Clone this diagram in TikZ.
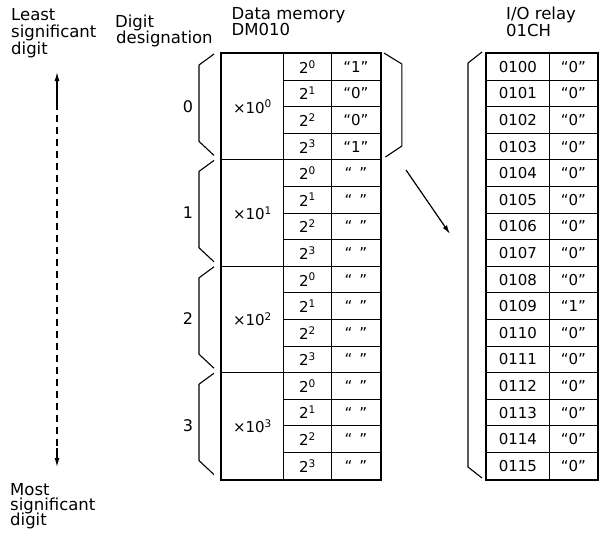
\documentclass[tikz,border=0pt]{standalone}
\usepackage{fontspec}
\setmainfont{DejaVu Sans}
\usetikzlibrary{arrows.meta,calc}
\begin{document}
\begin{tikzpicture}[x=1pt,y=-1pt,
  cell/.style={draw, line width=0.9pt, minimum width=#1, minimum height=26.6pt,
    inner sep=0pt, anchor=north west, font=\fontsize{15}{17}\selectfont},
  lbl/.style={anchor=base west, inner sep=0pt, font=\fontsize{16.5}{18}\selectfont},
  outer/.style={line width=2pt},
  brace/.style={line width=1.1pt, line join=round},
  tip/.style={-{Latex[length=9pt,width=5pt]}, line width=1.2pt}]
\useasboundingbox (0,0) rectangle (603,541);

% headings
\node[lbl] (l1) at (11,20.5) {Least};
\node[lbl] (l2) at (11,37.5) {significant};
\node[lbl] (l3) at (11,54.5) {digit};
\node[lbl] (m1) at (10,495) {Most};
\node[lbl] (m2) at (10,510) {significant};
\node[lbl] (m3) at (10,525) {digit};
\node[lbl] (dg1) at (115,27.3) {Digit};
\node[lbl] (dg2) at (116,43.5) {designation};
\node[lbl] (dm1) at (231.5,19.3) {Data memory};
\node[lbl] (dm2) at (231.5,35.5) {DM010};
\node[lbl] (io1) at (506,19.3) {I/O relay};
\node[lbl] (io2) at (506,36) {01CH};

% data memory and I/O relay cells
\foreach \i in {0,...,15} {
  \pgfmathsetmacro\yy{53+26.6*\i}
  \pgfmathtruncatemacro\p{mod(\i,4)}
  \node[cell=48pt] (b\i) at (283,\yy) {2\textsuperscript{\p}};
  \node[cell=49pt] (v\i) at (331,\yy) {\ifcase\i “1”\or “0”\or “0”\or “1”\else “\hspace{7pt}”\fi};
  \node[cell=63pt] (r\i) at (486,\yy) {\ifnum\i<10 010\i\else 01\i\fi};
  \node[cell=48pt] (rv\i) at (549,\yy) {\ifnum\i=9 “1”\else “0”\fi};
}
\foreach \k in {0,...,3} {
  \pgfmathsetmacro\yy{53+106.4*\k}
  \node[cell=62pt, minimum height=106.4pt] (g\k) at (221,\yy) {×10\textsuperscript{\k}};
  \node[font=\fontsize{16}{18}\selectfont, inner sep=0pt] (d\k) at (188,\yy+53.2) {\k};
  \draw[brace] ($(g\k.north west)+(-7,1)$) -- ++(-15,11) -- ++(0,76.4) -- ++(15,14);
}

% outer borders
\draw[outer] (g0.north west) rectangle (v15.south east);
\draw[outer] (r0.north west) rectangle (rv15.south east);

% right bracket of group 0
\draw[brace] ($(v0.north east)+(3,0)$) -- ++(18,11) -- ++(0,82) -- ++(-16.5,11);
% bracket of I/O relay table
\draw[brace] ($(r0.north west)+(-4,-1)$) -- ++(-14,11) -- ++(0,404) -- ++(14,11);

% transfer arrow
\coordinate (as) at (406,170);
\coordinate (ae) at (450,234);
\draw[tip] (as) -- (ae);

% significance arrow
\coordinate (lt) at (57,72);
\coordinate (lm1) at (57,103);
\coordinate (lm2) at (57,448);
\coordinate (lb) at (57,467);
\draw[tip] (lm1) -- (lt);
\draw[line width=1.2pt, dash pattern=on 7pt off 5pt] (lm1) -- (lm2);
\draw[tip] (lm2) -- (lb);
\end{tikzpicture}
\end{document}
